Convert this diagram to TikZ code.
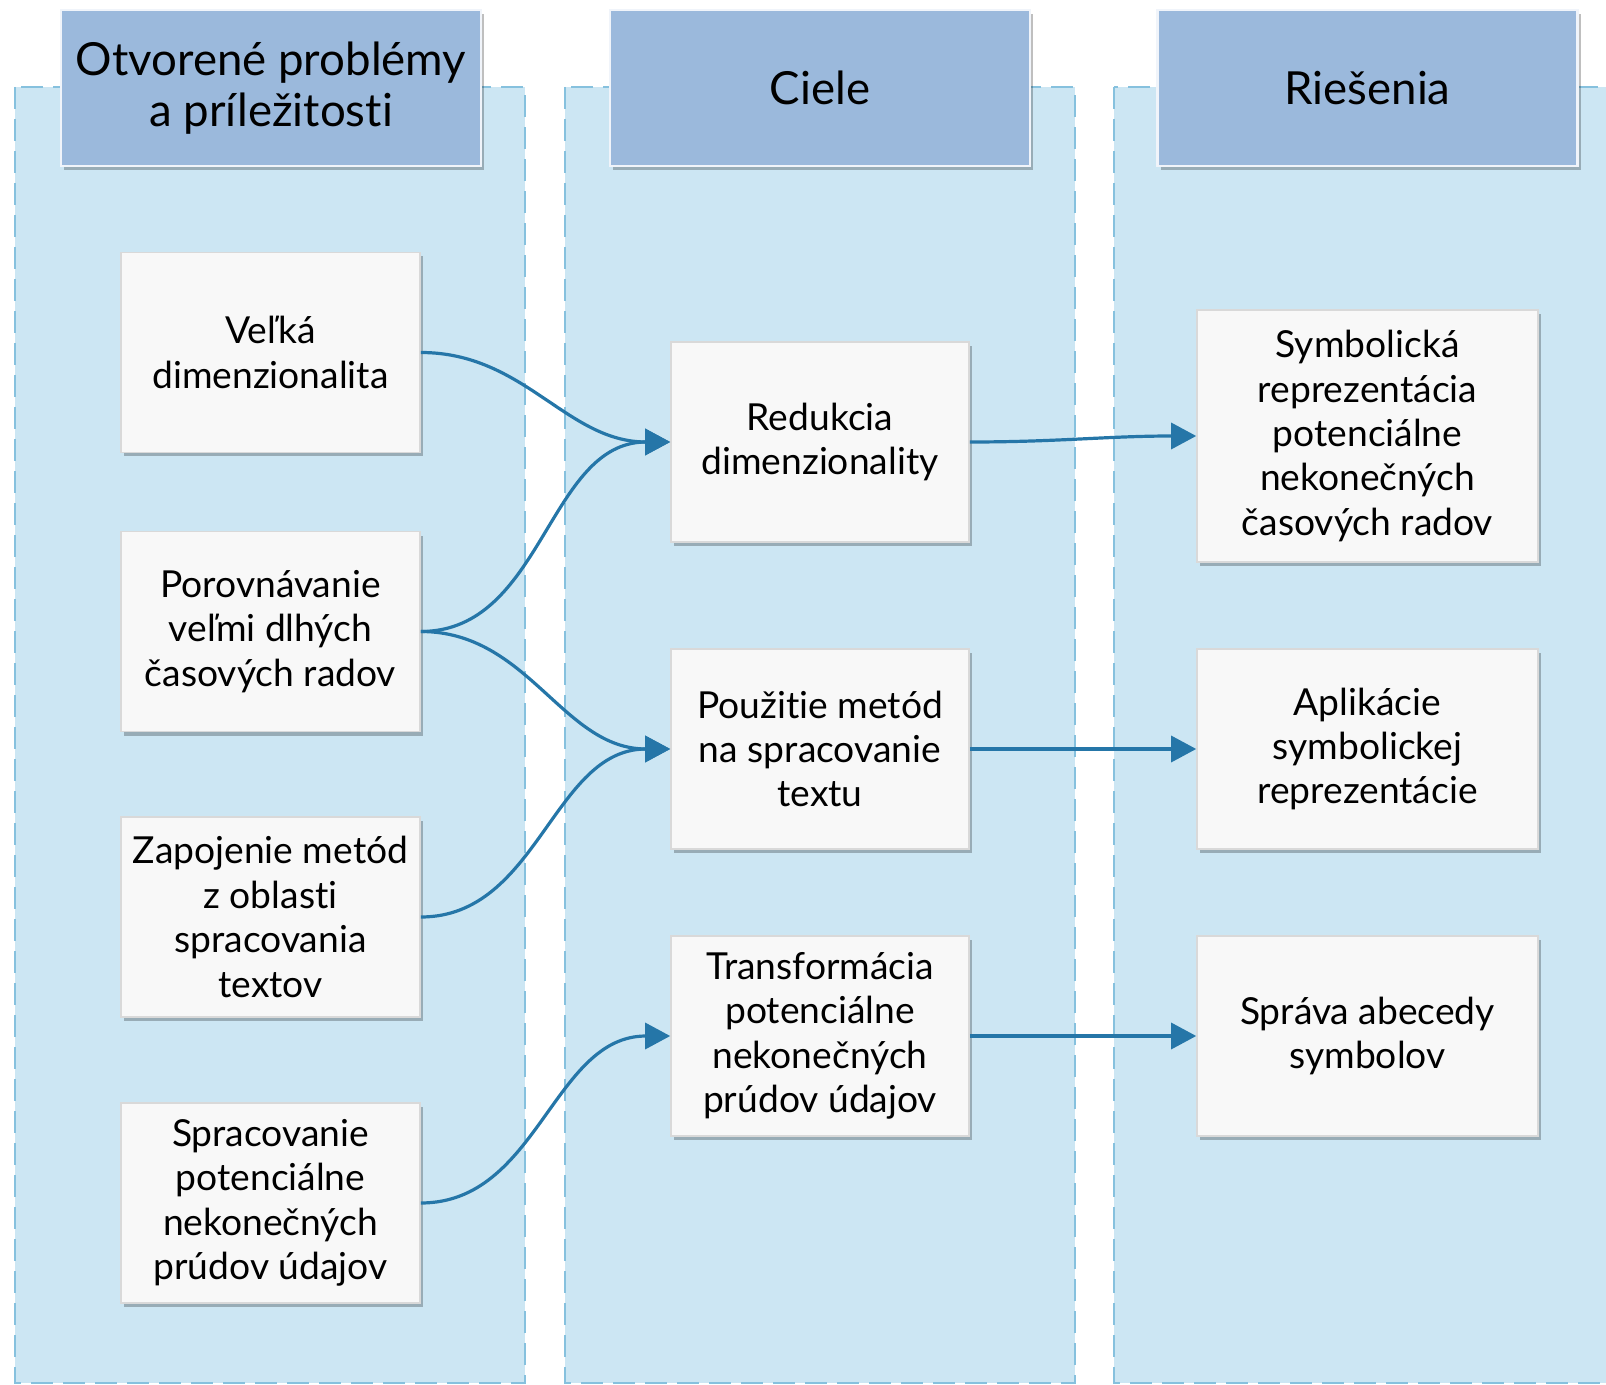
\documentclass[tikz,border=0pt]{standalone}
\usepackage{fontspec}
\setmainfont{Lato}[Ligatures={NoCommon}]
\usetikzlibrary{shadows,arrows.meta}
\definecolor{panelfill}{HTML}{CCE6F3}
\definecolor{paneldash}{HTML}{86C1DE}
\definecolor{headfill}{HTML}{9BB9DC}
\definecolor{arrowcol}{HTML}{2576A8}
\definecolor{boxfill}{HTML}{F8F8F8}
\tikzset{
  panel/.style={fill=panelfill, draw=paneldash, line width=1.3pt, dash pattern=on 11pt off 5pt},
  header/.style={rectangle, fill=headfill, draw=white!85!headfill, line width=1.2pt,
     minimum width=210pt, minimum height=78pt, align=center, inner sep=0pt,
     font=\fontsize{22.8}{25.5}\selectfont,
     drop shadow={shadow xshift=1.5pt, shadow yshift=-2pt, opacity=0.25, fill=black}},
  itembox/.style={rectangle, fill=boxfill, draw=black!15, line width=0.8pt,
     minimum height=100pt, align=center, inner sep=0pt,
     font=\fontsize{18.6}{22.2}\selectfont,
     drop shadow={shadow xshift=1.5pt, shadow yshift=-2pt, opacity=0.25, fill=black}},
  lbox/.style={itembox, minimum width=149.5pt},
  mbox/.style={itembox, minimum width=149pt},
  rbox/.style={itembox, minimum width=170.5pt},
  conn/.style={draw=arrowcol, line width=1.6pt, -{Triangle[length=12.5pt,width=13pt]}}
}
\begin{document}
\begin{tikzpicture}[x=0.5pt,y=-0.5pt]
\useasboundingbox (0,0) rectangle (1606,1385);
\clip (0,0) rectangle (1606,1385);
% panels
\path[panel] (15,87) rectangle (525,1383);
\path[panel] (565,87) rectangle (1075,1383);
\path[panel] (1114,87) rectangle (1660,1383);
% headers
\node[header] (h1) at (271,88) {Otvorené problémy\\a príležitosti};
\node[header] (h2) at (820,88) {Ciele};
\node[header] (h3) at (1367.5,88) {Riešenia};
% left boxes
\node[lbox] (l1) at (270.5,352.5) {Veľká\\dimenzionalita};
\node[lbox] (l2) at (270.5,631.5) {Porovnávanie\\veľmi dlhých\\časových radov};
\node[lbox] (l3) at (270.5,917) {Zapojenie metód\\z oblasti\\spracovania\\textov};
\node[lbox] (l4) at (270.5,1203) {Spracovanie\\potenciálne\\nekonečných\\prúdov údajov};
% middle boxes
\node[mbox] (m1) at (820,442) {Redukcia\\dimenzionality};
\node[mbox] (m2) at (820,749) {Použitie metód\\na spracovanie\\textu};
\node[mbox] (m3) at (820,1036) {Transformácia\\potenciálne\\nekonečných\\prúdov údajov};
% right boxes
\node[rbox, minimum height=126pt] (r1) at (1367.5,436) {Symbolická\\reprezentácia\\potenciálne\\nekonečných\\časových radov};
\node[rbox] (r2) at (1367.5,749) {Aplikácie\\symbolickej\\reprezentácie};
\node[rbox] (r3) at (1367.5,1036) {Správa abecedy\\symbolov};
% connectors
\draw[conn] (l1.east) to[out=0,in=180] (m1.west);
\draw[conn] (l2.east) to[out=0,in=180] (m1.west);
\draw[conn] (l2.east) to[out=0,in=180] (m2.west);
\draw[conn] (l3.east) to[out=0,in=180] (m2.west);
\draw[conn] (l4.east) to[out=0,in=180] (m3.west);
\draw[conn] (m1.east) to[out=0,in=180] (r1.west);
\draw[conn] (m2.east) to[out=0,in=180] (r2.west);
\draw[conn] (m3.east) to[out=0,in=180] (r3.west);
\end{tikzpicture}
\end{document}
